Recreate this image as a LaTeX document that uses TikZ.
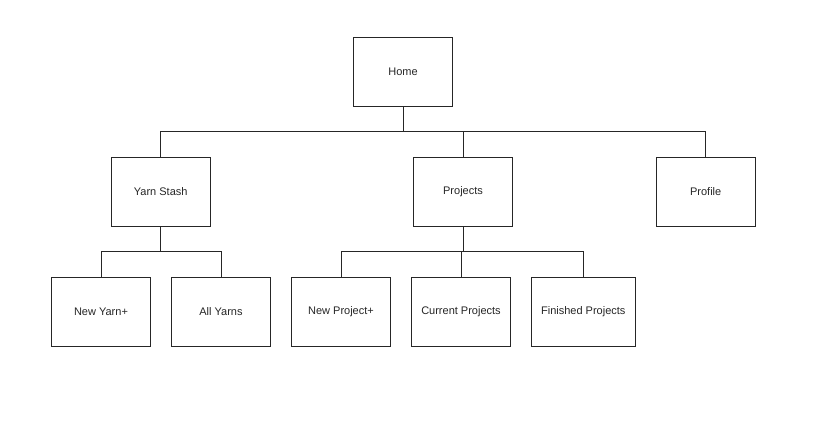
\documentclass[tikz,border=0pt]{standalone}
\usepackage{fontspec}
\setmainfont{Liberation Sans}
\begin{document}
\begin{tikzpicture}[x=1pt,y=-1pt,
  box/.style={draw=black!85, line width=0.9pt, fill=white, minimum width=99.5pt, minimum height=68.5pt, inner sep=0pt, font=\fontsize{11}{13}\selectfont, text=black!85},
  wide/.style={box, minimum width=104pt},
  conn/.style={draw=black!85, line width=0.9pt}]
\useasboundingbox (0,0) rectangle (825,428);
\node[box] (home) at (403,71.7) {Home};
\node[box] (yarn) at (160.7,191.7) {Yarn Stash};
\node[box] (proj) at (463,191.7) {Projects};
\node[box] (prof) at (705.7,191.7) {Profile};
\node[box] (newyarn) at (101,311.7) {New Yarn+};
\node[box] (allyarn) at (221,311.7) {All Yarns};
\node[box] (newproj) at (341,311.7) {New Project+};
\node[box] (curproj) at (461,311.7) {Current Projects};
\node[wide] (finproj) at (583.3,311.7) {Finished Projects};
\coordinate (j1) at (403,131.7);
\coordinate (j2) at (160.7,251.7);
\coordinate (j3) at (463,251.7);
\draw[conn] (home.south) -- (j1);
\draw[conn] (yarn.north) |- (j1) -| (prof.north);
\draw[conn] (proj.north) -- (proj.north |- j1);
\draw[conn] (yarn.south) -- (j2);
\draw[conn] (newyarn.north) |- (j2) -| (allyarn.north);
\draw[conn] (proj.south) -- (j3);
\draw[conn] (newproj.north) |- (j3) -| (finproj.north);
\draw[conn] (curproj.north) -- (curproj.north |- j3);
\end{tikzpicture}
\end{document}
